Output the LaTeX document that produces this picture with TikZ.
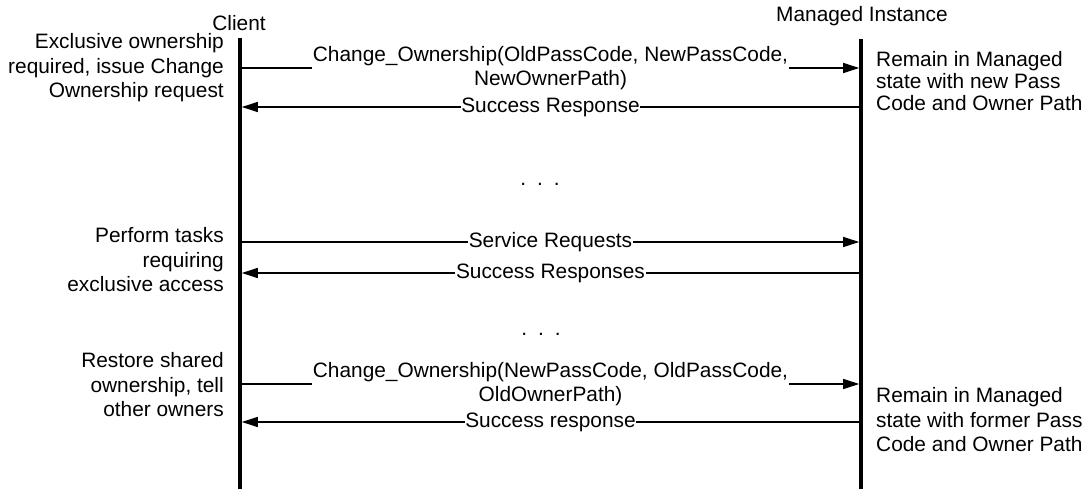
\documentclass[tikz,border=0pt]{standalone}
\usepackage{fontspec}
\setmainfont{Liberation Sans}
\usetikzlibrary{arrows.meta}
\begin{document}
\begin{tikzpicture}[x=1pt,y=-1pt,
  lbl/.style={font=\fontsize{20.85}{24.5}\selectfont, inner sep=0pt},
  life/.style={line width=3.6pt},
  msg/.style={line width=1.3pt, -{Triangle[length=16pt,width=10pt]}, shorten >=1.8pt},
  mlbl/.style={lbl, fill=white, align=center, inner xsep=0.6pt},
]
\useasboundingbox (0,0) rectangle (1090,489);
% headers
\node[lbl, anchor=base] (client) at (239,31) {Client};
\node[lbl, anchor=base] (mi) at (862,21.7) {Managed Instance};
% lifelines
\coordinate (ct) at (240,38); \coordinate (cb) at (240,489);
\coordinate (mt) at (861,39); \coordinate (mb) at (861,489);
\draw[life] (ct) -- (cb);
\draw[life] (mt) -- (mb);
% message end points
\coordinate (c1) at (240,68);  \coordinate (m1) at (861,68);
\coordinate (c2) at (240,107); \coordinate (m2) at (861,107);
\coordinate (c3) at (240,242); \coordinate (m3) at (861,242);
\coordinate (c4) at (240,273); \coordinate (m4) at (861,273);
\coordinate (c5) at (240,384); \coordinate (m5) at (861,384);
\coordinate (c6) at (240,422); \coordinate (m6) at (861,422);
% messages
\draw[msg] (c1) -- node[mlbl] (l1) {Change\_Ownership(OldPassCode, NewPassCode,\\NewOwnerPath)} (m1);
\draw[msg] (m2) -- node[mlbl] (l2) {Success Response} (c2);
\draw[msg] (c3) -- node[mlbl] (l3) {Service Requests} (m3);
\draw[msg] (m4) -- node[mlbl] (l4) {Success Responses} (c4);
\draw[msg] (c5) -- node[mlbl] (l5) {Change\_Ownership(NewPassCode, OldPassCode,\\OldOwnerPath)} (m5);
\draw[msg] (m6) -- node[mlbl] (l6) {Success response} (c6);
% ellipses
\node[lbl, anchor=base] (d1) at (540,185.5) {.\hspace{11pt}.\hspace{11pt}.};
\node[lbl, anchor=base] (d2) at (541,335.5) {.\hspace{11pt}.\hspace{11pt}.};
% left notes
\node[lbl, align=right, anchor=east] (n1) at (224,68) {Exclusive ownership\\required, issue Change\\Ownership request};
\node[lbl, align=right, anchor=east] (n2) at (224,260) {Perform tasks\\requiring\\exclusive access};
\node[lbl, align=right, anchor=east] (n3) at (224,385) {Restore shared\\ownership, tell\\other owners};
% right notes
\node[lbl, font=\fontsize{20.85}{22}\selectfont, align=left, anchor=west] (r1) at (876,81) {Remain in Managed\\state with new Pass\\Code and Owner Path};
\node[lbl, align=left, anchor=west] (r2) at (876,420) {Remain in Managed\\state with former Pass\\Code and Owner Path};
\end{tikzpicture}
\end{document}
